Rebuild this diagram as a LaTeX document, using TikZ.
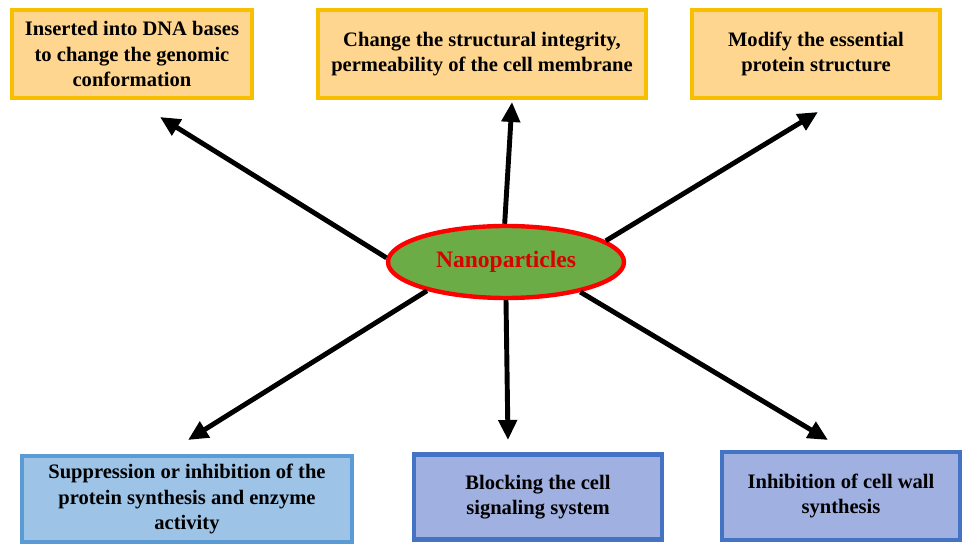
\documentclass[tikz,border=0pt]{standalone}
\usepackage{fontspec}
\setmainfont{Liberation Serif}[BoldFont={Liberation Serif Bold}]
\usepackage{xcolor}
\usetikzlibrary{arrows.meta, shapes.geometric}
\definecolor{boxorange}{RGB}{255,214,143}
\definecolor{edgegold}{RGB}{248,190,0}
\definecolor{boxsky}{RGB}{157,195,230}
\definecolor{edgesky}{RGB}{91,155,213}
\definecolor{boxlav}{RGB}{160,176,224}
\definecolor{edgelav}{RGB}{68,114,196}
\definecolor{npgreen}{RGB}{108,172,70}

\begin{document}
\begin{tikzpicture}[>=Stealth,
  effect/.style={draw=edgegold, fill=boxorange, line width=2.3pt, align=center,
                 minimum height=1.76cm, inner sep=2pt,
                 font=\rmfamily\bfseries\fontsize{11.7}{14.6}\selectfont},
  skybox/.style={effect, draw=edgesky, fill=boxsky},
  lavbox/.style={effect, draw=edgelav, fill=boxlav},
  arr/.style={-{Triangle[length=0.4cm,width=0.36cm]}, line width=2.8pt, black}]
  \useasboundingbox (0,0) rectangle (19.26,10.88);
  % effects above
  \node[effect, minimum width=4.8cm] (dna) at (2.64,9.8)
    {Inserted into DNA bases\\ to change the genomic\\ conformation};
  \node[effect, minimum width=6.56cm] (memb) at (9.64,9.8)
    {Change the structural integrity,\\ permeability of the cell membrane};
  \node[effect, minimum width=4.96cm] (prot) at (16.32,9.8)
    {Modify the essential\\ protein structure};
  % effects below
  \node[skybox, minimum width=6.6cm, minimum height=1.72cm] (synth) at (3.74,0.9)
    {Suppression or inhibition of the\\ protein synthesis and enzyme\\ activity};
  \node[lavbox, minimum width=4.96cm, minimum height=1.7cm] (sign) at (10.76,0.94)
    {Blocking the cell\\ signaling system};
  \node[lavbox, minimum width=4.76cm] (wall) at (16.82,0.96)
    {Inhibition of cell wall\\ synthesis};
  % centre
  \node[ellipse, draw=red, fill=npgreen, line width=2.5pt, minimum width=4.72cm,
        minimum height=1.44cm, inner sep=0pt, text=red!85!black,
        font=\rmfamily\bfseries\fontsize{13.4}{16}\selectfont] (np) at (10.12,5.64) {Nanoparticles};
  % arrow tips
  \coordinate (t1) at (3.2,8.54);
  \coordinate (t2) at (10.24,8.84);
  \coordinate (t3) at (16.36,8.64);
  \coordinate (t4) at (3.76,2.08);
  \coordinate (t5) at (10.16,2.08);
  \coordinate (t6) at (16.56,2.08);
  \draw[arr] (np.178) -- (t1);
  \draw[arr] (np.92) -- (t2);
  \draw[arr] (np.12) -- (t3);
  \draw[arr] (np.200) -- (t4);
  \draw[arr] (np.270) -- (t5);
  \draw[arr] (np.338) -- (t6);
\end{tikzpicture}
\end{document}
